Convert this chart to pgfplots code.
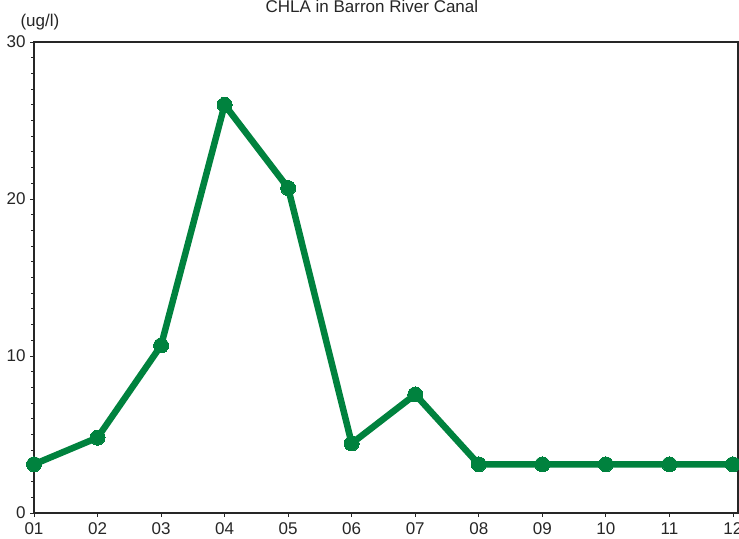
\documentclass[border=0pt]{standalone}
\usepackage{fontspec}
\setmainfont{Liberation Sans}
\usepackage{pgfplots}
\pgfplotsset{compat=1.18}
\definecolor{chlagreen}{RGB}{0,130,62}

\begin{document}
\begin{tikzpicture}
    \begin{axis}[
        name=ax,
        scale only axis,
        width=704pt,
        height=471pt,
        xmin=1, xmax=12.08,
        ymin=0, ymax=30,
        xtick={1,...,12},
        xticklabels={01,02,03,04,05,06,07,08,09,10,11,12},
        ytick={0,10,20,30},
        minor y tick num=9,
        tick pos=left,
        tick align=outside,
        major tick length=4pt,
        minor tick length=3pt,
        axis line style={line width=1.4pt, black!85},
        every tick/.style={black!85, line width=0.8pt},
        tick label style={font=\fontsize{17}{20}\selectfont, text=black!85},
        /pgf/number format/assume math mode=true,
        xticklabel style={yshift=-2pt},
        yticklabel style={xshift=-1pt},
        clip=false,
        ]

        % CHLA by month (ug/l)
        \addplot[chlagreen, line width=6.5pt, line join=round,
                 mark=*, mark size=7.5pt, mark options={fill=chlagreen, draw=chlagreen, line width=0pt}]
        coordinates {
            (1, 3.1) (2, 4.8) (3, 10.67) (4, 26.0) (5, 20.7) (6, 4.43)
            (7, 7.55) (8, 3.1) (9, 3.1) (10, 3.1) (11, 3.1) (12, 3.1)
        };

        \node[anchor=base, font=\fontsize{17}{20}\selectfont, text=black!85]
            at (rel axis cs:0.48,1) [yshift=29pt] {CHLA in Barron River Canal};
        \node[anchor=base west, font=\fontsize{17}{20}\selectfont, text=black!85]
            at (rel axis cs:0,1) [xshift=-17pt, yshift=15pt] {(ug/l)};
    \end{axis}
    \pgfresetboundingbox
    \path ([xshift=-34pt, yshift=-26pt]ax.south west) rectangle ([xshift=1pt, yshift=42pt]ax.north east);
\end{tikzpicture}
\end{document}
